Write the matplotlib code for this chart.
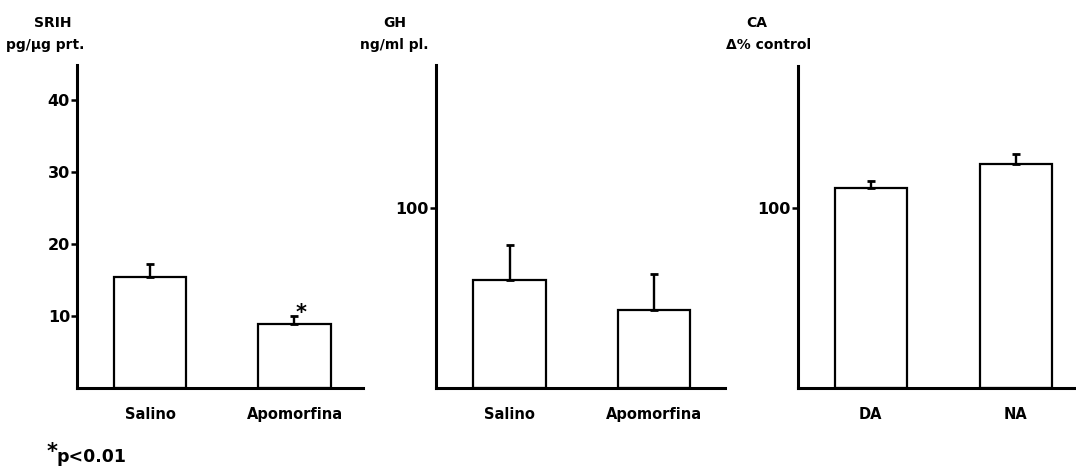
import matplotlib
matplotlib.use("Agg")
import matplotlib.pyplot as plt

plt.rcParams['font.family'] = ['DejaVu Sans']
plt.rcParams['font.weight'] = 'bold'

# SRIH content (pg/ug protein)
srih_groups = ["Salino", "Apomorfina"]
srih_mean = [15.4, 8.9]
srih_err = [1.8, 1.1]

# Plasma GH (ng/ml)
gh_groups = ["Salino", "Apomorfina"]
gh_mean = [60.0, 43.5]
gh_err = [19.5, 20.0]

# Catecholamines (% of control)
ca_groups = ["DA", "NA"]
ca_mean = [111.0, 124.5]
ca_err = [4.0, 5.5]

W, H = 1076, 469
fig = plt.figure(figsize=(W / 100, H / 100), dpi=100)

def px_axes(left, right, top, bottom):
    return fig.add_axes([left / W, 1 - bottom / H, (right - left) / W, (bottom - top) / H])

def draw_panel(ax, groups, means, errs, ylim, yticks, xlim, title, unit, title_x, unit_x):
    x = list(range(len(groups)))
    ax.bar(x, means, width=0.5, color='white', edgecolor='black', linewidth=1.6, zorder=2)
    ax.errorbar(x, means, yerr=[[0] * len(errs), errs], fmt='none', ecolor='black',
                elinewidth=1.7, capsize=3.2, capthick=2.0, zorder=3)
    ax.set_xlim(*xlim)
    ax.set_ylim(*ylim)
    ax.set_yticks(yticks)
    ax.set_yticklabels([str(t) for t in yticks], fontsize=11.5, fontweight='bold')
    ax.set_xticks(x)
    ax.set_xticklabels(groups, fontsize=10.5, fontweight='bold')
    ax.tick_params(axis='x', length=0, pad=14)
    ax.tick_params(axis='y', direction='out', length=4, width=1.8, pad=1)
    for s in ('top', 'right'):
        ax.spines[s].set_visible(False)
    for s in ('left', 'bottom'):
        ax.spines[s].set_linewidth(2.2)
    ax.set_facecolor('none')
    fig.text(title_x / W, 1 - 23 / H, title, ha='center', va='center',
             fontsize=10, fontweight='bold')
    fig.text(unit_x / W, 1 - 45 / H, unit, ha='center', va='center',
             fontsize=10, fontweight='bold')

ax1 = px_axes(77, 363, 65, 388)
draw_panel(ax1, srih_groups, srih_mean, srih_err, (0, 44.9), [10, 20, 30, 40],
           (-0.505, 1.474), "SRIH", "pg/\u00b5g prt.", 53, 45)
ax1.annotate("*", xy=(1, srih_mean[1] + srih_err[1]), xytext=(5, -5),
             textcoords='offset points', ha='center', va='bottom',
             fontsize=15, fontweight='bold')

ax2 = px_axes(436, 725, 65, 388)
draw_panel(ax2, gh_groups, gh_mean, gh_err, (0, 179.5), [100],
           (-0.509, 1.49), "GH", "ng/ml pl.", 395, 394)

ax3 = px_axes(798, 1074, 66, 388)
draw_panel(ax3, ca_groups, ca_mean, ca_err, (0, 179), [100],
           (-0.502, 1.40), "CA", "\u0394% control", 757, 769)

fig.text(47 / W, 1 - 452 / H, "*", ha='left', va='center',
         fontsize=15, fontweight='bold')
fig.text(57 / W, 1 - 457 / H, "p<0.01", ha='left', va='center',
         fontsize=12.5, fontweight='bold')

fig.savefig("out.png", dpi=100, facecolor='white')
